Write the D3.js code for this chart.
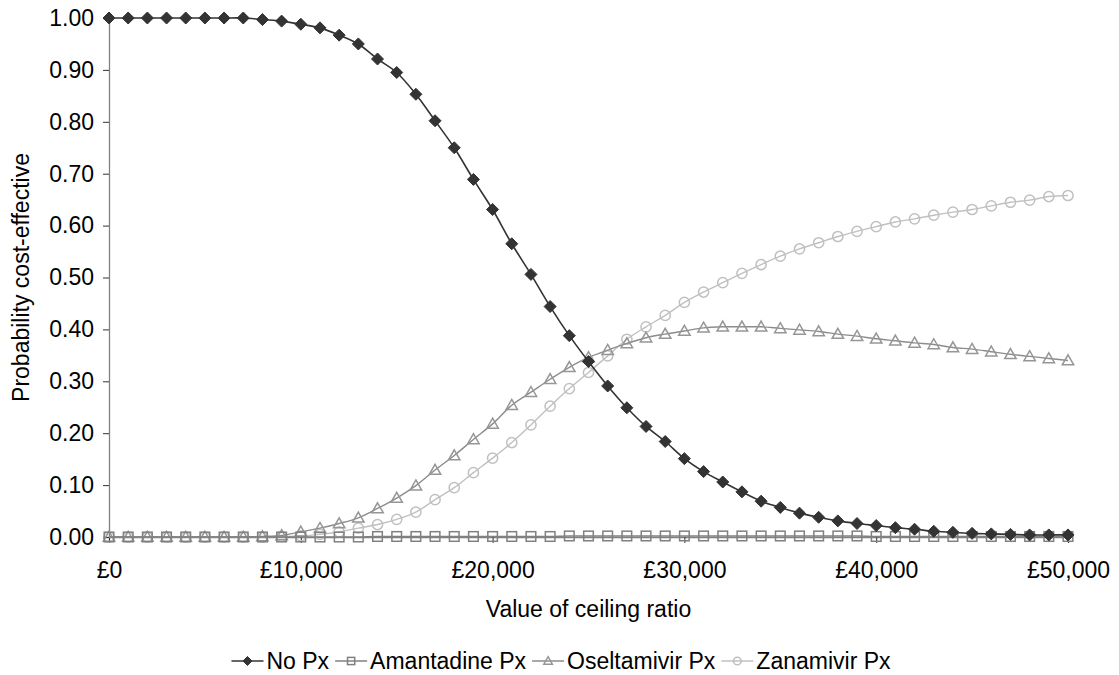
<!DOCTYPE html>
<html>
<head>
<meta charset="utf-8">
<script src="https://cdn.jsdelivr.net/npm/d3@7"></script>
<style>
  html, body { margin: 0; padding: 0; background: #fff; }
  svg { display: block; font-family: "Liberation Sans", Arial, sans-serif; }
</style>
</head>
<body>
<svg id="chart" width="1119" height="675"></svg>
<script>
// ---- Data ----
const ceilingRatios = [0,1000,2000,3000,4000,5000,6000,7000,8000,9000,10000,11000,12000,13000,14000,15000,16000,17000,18000,19000,20000,21000,22000,23000,24000,25000,26000,27000,28000,29000,30000,31000,32000,33000,34000,35000,36000,37000,38000,39000,40000,41000,42000,43000,44000,45000,46000,47000,48000,49000,50000];

const noPx = [1,1,1,1,1,1,1,1,0.997,0.994,0.988,0.981,0.967,0.950,0.921,0.895,0.853,0.802,0.750,0.689,0.631,0.565,0.506,0.444,0.388,0.338,0.291,0.249,0.213,0.184,0.151,0.126,0.106,0.087,0.069,0.057,0.046,0.038,0.031,0.026,0.022,0.018,0.015,0.011,0.009,0.007,0.006,0.005,0.004,0.004,0.004];

const amantadinePx = [0,0,0,0,0,0,0,0,0,0,0,0,0,0,0.001,0.001,0.001,0.001,0.001,0.001,0.001,0.001,0.001,0.001,0.002,0.002,0.002,0.002,0.002,0.002,0.002,0.002,0.002,0.002,0.002,0.002,0.002,0.002,0.002,0.002,0.001,0.001,0.001,0.001,0.001,0.001,0.001,0.001,0.001,0.001,0.001];

const oseltamivirPx = [0,0,0,0,0,0,0,0,0.001,0.003,0.010,0.017,0.026,0.037,0.055,0.075,0.099,0.129,0.157,0.188,0.218,0.254,0.279,0.304,0.327,0.346,0.360,0.373,0.384,0.391,0.397,0.403,0.405,0.405,0.405,0.402,0.399,0.396,0.391,0.387,0.382,0.378,0.374,0.371,0.365,0.362,0.357,0.352,0.348,0.344,0.340];

const zanamivirPx = [0,0,0,0,0,0,0,0,0,0.001,0.002,0.005,0.010,0.017,0.024,0.034,0.048,0.072,0.095,0.124,0.152,0.182,0.216,0.252,0.286,0.317,0.349,0.381,0.405,0.427,0.452,0.472,0.490,0.508,0.525,0.541,0.555,0.567,0.579,0.589,0.598,0.607,0.613,0.620,0.626,0.631,0.638,0.645,0.649,0.656,0.658];

const seriesNames = ["No Px", "Amantadine Px", "Oseltamivir Px", "Zanamivir Px"];
const yTicks = [0,0.1,0.2,0.3,0.4,0.5,0.6,0.7,0.8,0.9,1.0];
const xTicks = [0,10000,20000,30000,40000,50000];
const xTitle = "Value of ceiling ratio";
const yTitle = "Probability cost-effective";

// ---- Styles ----
const FS = 23;
const styles = [
  { line: "#333333", marker: "diamond", fill: "#333333", stroke: "#333333" },
  { line: "#808080", marker: "square",  fill: "#ffffff", stroke: "#808080" },
  { line: "#8c8c8c", marker: "triangle",fill: "#ffffff", stroke: "#969696" },
  { line: "#c0c0c0", marker: "circle",  fill: "#ffffff", stroke: "#c0c0c0" }
];
const seriesValues = [noPx, amantadinePx, oseltamivirPx, zanamivirPx];

const svg = d3.select("#chart");
const x = d3.scaleLinear().domain([0, 50000]).range([109, 1068]);
const y = d3.scaleLinear().domain([0, 1]).range([537, 18]);

// Axes
const yAxis = d3.axisLeft(y).tickValues(yTicks).tickFormat(d3.format(".2f")).tickSize(6).tickPadding(9);
const gy = svg.append("g").attr("transform", `translate(${x(0)},0)`).call(yAxis);
gy.select(".domain").attr("stroke", "#808080").attr("stroke-width", 1.3);
gy.selectAll(".tick line").attr("stroke", "#333");
gy.selectAll(".tick text").attr("font-size", FS).attr("fill", "#000").attr("font-family", "Liberation Sans, Arial, sans-serif");

const fmtX = v => "£" + d3.format(",")(v);
const xAxis = d3.axisBottom(x).tickValues(xTicks).tickFormat(fmtX).tickSize(6).tickPadding(19);
const gx = svg.append("g").attr("transform", `translate(0,${y(0)})`).call(xAxis);
gx.select(".domain").attr("stroke", "#808080").attr("stroke-width", 1.3);
gx.selectAll(".tick line").attr("stroke", "#333");
gx.selectAll(".tick text").attr("font-size", FS).attr("fill", "#000").attr("font-family", "Liberation Sans, Arial, sans-serif");

// Titles
svg.append("text").attr("x", (x(0) + x(50000)) / 2).attr("y", 617)
  .attr("text-anchor", "middle").attr("font-size", FS).attr("fill", "#000").text(xTitle);
svg.append("text").attr("transform", `translate(29,${(y(0) + y(1)) / 2}) rotate(-90)`)
  .attr("text-anchor", "middle").attr("font-size", FS).attr("fill", "#000").text(yTitle);

// Marker drawing
function drawMarker(g, type, cx, cy, s, st) {
  if (type === "diamond") {
    g.append("path").attr("d", `M${cx},${cy - s}L${cx + s},${cy}L${cx},${cy + s}L${cx - s},${cy}Z`)
      .attr("fill", st.fill).attr("stroke", st.stroke).attr("stroke-width", 1);
  } else if (type === "square") {
    const h = s * 0.8;
    g.append("rect").attr("x", cx - h).attr("y", cy - h).attr("width", 2 * h).attr("height", 2 * h)
      .attr("fill", "none").attr("stroke", st.stroke).attr("stroke-width", 1.5);
  } else if (type === "triangle") {
    const h = s * 0.95;
    g.append("path").attr("d", `M${cx},${cy - h}L${cx + h},${cy + h * 0.75}L${cx - h},${cy + h * 0.75}Z`)
      .attr("fill", "none").attr("stroke", st.stroke).attr("stroke-width", 1.5);
  } else if (type === "circle") {
    g.append("circle").attr("cx", cx).attr("cy", cy).attr("r", s * 0.85)
      .attr("fill", "none").attr("stroke", st.stroke).attr("stroke-width", 1.5);
  }
}

const line = d3.line().curve(d3.curveCatmullRom.alpha(0.5));

// Draw series: zanamivir behind, no Px on top
const order = [3, 2, 1, 0];
order.forEach(si => {
  const vals = seriesValues[si];
  const st = styles[si];
  const pts = ceilingRatios.map((c, i) => [x(c), y(vals[i])]);
  const g = svg.append("g");
  g.append("path").attr("d", line(pts)).attr("fill", "none")
    .attr("stroke", st.line).attr("stroke-width", si === 0 ? 1.6 : 1.4);
  pts.forEach(p => drawMarker(g, st.marker, p[0], p[1], 6, st));
});

// Legend (flow layout, centered)
const legendY = 661;
const symW = 32, symGap = 3, itemGap = 6;
const legend = svg.append("g");
const items = seriesNames.map((name, si) => {
  const g = legend.append("g");
  const t = g.append("text").attr("y", legendY + 8).attr("font-size", FS).attr("fill", "#000").text(name);
  return { g, t, w: t.node().getComputedTextLength(), si };
});
const total = d3.sum(items, d => symW + symGap + d.w) + itemGap * (items.length - 1);
let cx0 = 561 - total / 2;
items.forEach(it => {
  const st = styles[it.si];
  it.g.insert("line", "text").attr("x1", cx0).attr("x2", cx0 + symW).attr("y1", legendY).attr("y2", legendY)
    .attr("stroke", st.line).attr("stroke-width", 1.5);
  drawMarker(it.g, st.marker, cx0 + symW / 2, legendY, 4.5, st);
  it.t.attr("x", cx0 + symW + symGap);
  cx0 += symW + symGap + it.w + itemGap;
});
</script>
</body>
</html>
